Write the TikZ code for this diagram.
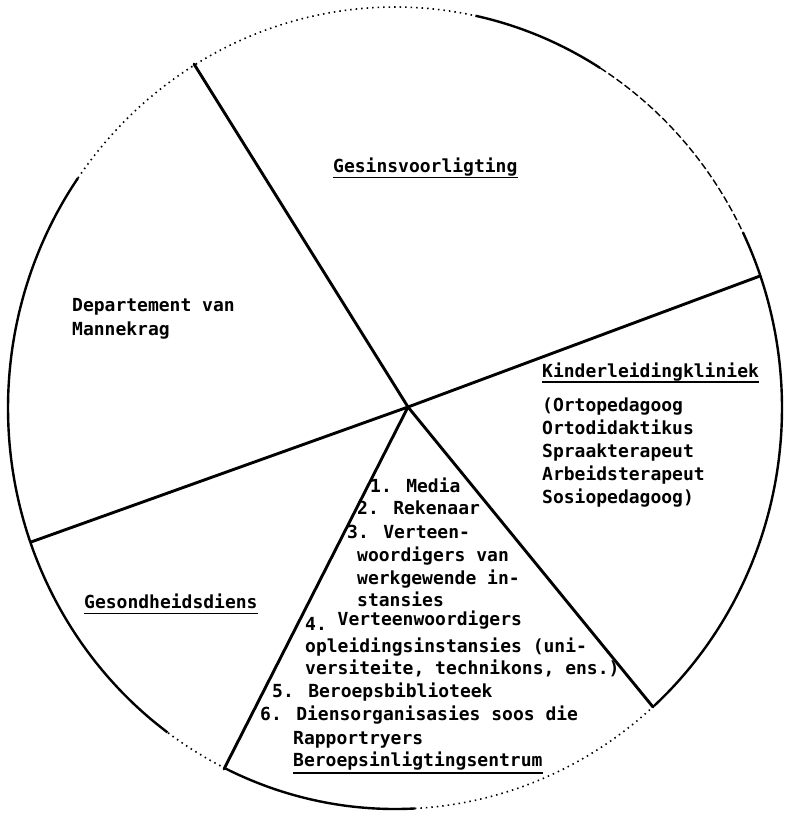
\documentclass[tikz,border=0pt]{standalone}
\usepackage{fontspec}
\newfontfamily\typew{DejaVu Sans Mono}
\begin{document}
\begin{tikzpicture}[x=1pt,y=-1pt,
  txt/.style={font=\typew\bfseries\fontsize{18}{23}\selectfont, anchor=base west, inner sep=0pt},
  spoke/.style={line width=2.9pt, line cap=round},
  rimsolid/.style={line width=2.4pt},
  rimdot/.style={line width=1.6pt, dash pattern=on 1.5pt off 4pt},
  rimdash/.style={line width=1.4pt, dash pattern=on 7pt off 3pt},
  uline/.style={line width=1.8pt}]
\useasboundingbox (0,0) rectangle (784,813);
% rim of the circle (partly faded in print)
\draw[rimsolid] plot[domain=126:215, samples=60, smooth] ({395+387*cos(\x)},{408+401*sin(\x)});
\draw[rimdot]   plot[domain=215:282, samples=50, smooth] ({395+387*cos(\x)},{408+401*sin(\x)});
\draw[rimsolid] plot[domain=282:302, samples=20, smooth] ({395+387*cos(\x)},{408+401*sin(\x)});
\draw[rimdash]  plot[domain=302:334, samples=30, smooth] ({395+387*cos(\x)},{408+401*sin(\x)});
\draw[rimsolid] plot[domain=-26:48, samples=60, smooth] ({395+387*cos(\x)},{408+401*sin(\x)});
\draw[rimdot]   plot[domain=48:87, samples=30, smooth] ({395+387*cos(\x)},{408+401*sin(\x)});
\draw[rimsolid] plot[domain=87:116, samples=30, smooth] ({395+387*cos(\x)},{408+401*sin(\x)});
\draw[rimdot]   plot[domain=116:126, samples=10, smooth] ({395+387*cos(\x)},{408+401*sin(\x)});
% spokes
\coordinate (C) at (408,407);
\coordinate (A) at (194,64);
\coordinate (B) at (760,276);
\coordinate (D) at (31,542);
\coordinate (E) at (653,707);
\coordinate (F) at (224,769);
\draw[spoke] (C) -- (A);
\draw[spoke] (C) -- (B);
\draw[spoke] (C) -- (D);
\draw[spoke] (C) -- (E);
\draw[spoke] (C) -- (F);
% labels
\node[txt] (gesin) at (333,172) {Gesinsvoorligting};
\draw[uline] ([yshift=-5.5pt]gesin.base west) -- ([yshift=-5.5pt]gesin.base east);
\node[txt] (dep1) at (72,311) {Departement van};
\node[txt] (dep2) at (72,335) {Mannekrag};
\node[txt] (kind) at (542,377) {Kinderleidingkliniek};
\draw[uline] ([yshift=-5pt]kind.base west) -- ([yshift=-5pt]kind.base east);
\node[txt] (k1) at (542,411) {(Ortopedagoog};
\node[txt] (k2) at (542,434) {Ortodidaktikus};
\node[txt] (k3) at (542,457) {Spraakterapeut};
\node[txt] (k4) at (542,480) {Arbeidsterapeut};
\node[txt] (k5) at (542,503) {Sosiopedagoog)};
\node[txt] (gesond) at (84,608) {Gesondheidsdiens};
\draw[uline] ([yshift=-5.5pt]gesond.base west) -- ([yshift=-5.5pt]gesond.base east);
\node[txt] (m1) at (370,492) {1. Media};
\node[txt] (m2) at (357,514) {2. Rekenaar};
\node[txt] (m3) at (347,538) {3. Verteen-};
\node[txt] (m3b) at (357,561) {woordigers van};
\node[txt] (m3c) at (357,584) {werkgewende in-};
\node[txt] (m3d) at (357,606) {stansies};
\node[txt] (m4) at (305,630) {4.\raisebox{4.5pt}{ Verteenwoordigers}};
\node[txt] (m4b) at (305,652) {opleidingsinstansies (uni-};
\node[txt] (m4c) at (305,674) {versiteite, technikons, ens.)};
\node[txt] (m5) at (272,697) {5. Beroepsbiblioteek};
\node[txt] (m6) at (260,720) {6. Diensorganisasies soos die};
\node[txt] (m6b) at (293,744) {Rapportryers};
\node[txt] (m6c) at (293,766) {Beroepsinligtingsentrum};
\draw[uline] ([yshift=-7pt]m6c.base west) -- ([yshift=-7pt]m6c.base east);
\end{tikzpicture}
\end{document}
